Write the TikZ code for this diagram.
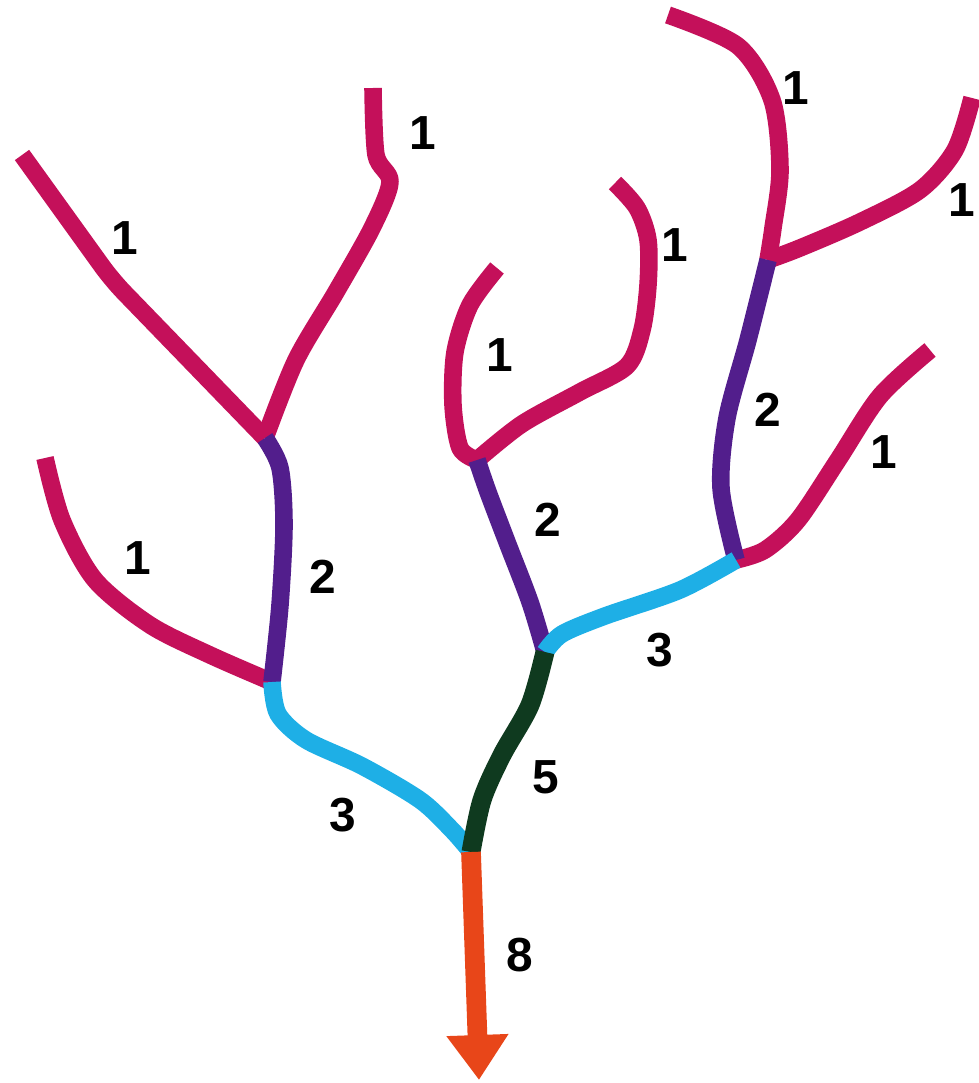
\documentclass[tikz,border=0pt]{standalone}
\usepackage{fontspec}
\usepackage{tikz}
\usetikzlibrary{arrows.meta}
\newfontfamily\labelfont{Liberation Sans}
\definecolor{orderone}{HTML}{C4105A}
\definecolor{ordertwo}{HTML}{521E8C}
\definecolor{orderthree}{HTML}{1EAFE6}
\definecolor{orderfive}{HTML}{0F3A1F}
\definecolor{ordereight}{HTML}{E84619}
\tikzset{
  stream/.style={line width=12.5pt,line join=round},
  streamone/.style={stream,draw=orderone},
  streamtwo/.style={stream,draw=ordertwo},
  streamthree/.style={stream,draw=orderthree},
  streamfive/.style={stream,draw=orderfive,line width=13.5pt},
  outlet/.style={stream,draw=ordereight,line width=14pt,-{Triangle[length=32pt,width=42pt]}},
  orderlabel/.style={font=\labelfont\bfseries\fontsize{34}{40}\selectfont,inner sep=0pt}
}

\begin{document}
\begin{tikzpicture}[x=0.025cm,y=-0.025cm]
  \useasboundingbox (0,0) rectangle (978,1083);
  % Zusammenfluesse
  \coordinate (ja) at (265,438);
  \coordinate (jb) at (272,682);
  \coordinate (jm) at (471,852);
  \coordinate (jc) at (545,652);
  \coordinate (jd) at (477,460);
  \coordinate (je) at (736,560);
  \coordinate (jf) at (768,260);
  \coordinate (mouth) at (479,1080);
  % linker Ast
  \draw[streamone,rounded corners=12pt] (22,155) -- (112,280) -- (ja);
  \draw[streamone] plot[smooth] coordinates {(373,88) (376,155) (390,182) (372,228) (336,292) (296,360) (ja)};
  \draw[streamone] plot[smooth] coordinates {(45,458) (62,520) (95,580) (150,625) (210,655) (jb)};
  \draw[streamtwo] plot[smooth] coordinates {(ja) (280,468) (284,525) (280,605) (jb)};
  \draw[streamthree] plot[smooth] coordinates {(jb) (278,714) (306,740) (362,766) (420,800) (452,830) (jm)};
  % mittlerer Ast
  \draw[streamone] plot[smooth] coordinates {(497,268) (470,305) (455,352) (453,405) (460,448) (jd)};
  \draw[streamone] plot[smooth] coordinates {(jd) (522,424) (580,392) (627,366) (642,330) (648,285) (648,240) (637,208) (615,183)};
  \draw[streamtwo] plot[smooth] coordinates {(jd) (488,492) (507,542) (530,602) (jc)};
  % rechter Ast
  \draw[streamone] plot[smooth] coordinates {(668,15) (738,46) (772,100) (780,170) (773,228) (jf)};
  \draw[streamone] plot[smooth] coordinates {(jf) (800,248) (860,222) (920,190) (955,150) (972,98)};
  \draw[streamone] plot[smooth] coordinates {(je) (765,550) (798,520) (838,460) (880,396) (930,350)};
  \draw[streamtwo] plot[smooth] coordinates {(jf) (748,340) (727,418) (721,488) (je)};
  \draw[streamthree] plot[smooth] coordinates {(jc) (562,634) (605,616) (680,590) (je)};
  % Hauptstrom
  \draw[streamfive] plot[smooth] coordinates {(jc) (530,705) (502,755) (482,800) (jm)};
  \draw[outlet] (jm) -- (mouth);
  % Ordnungszahlen
  \node[orderlabel] (la) at (125,238) {1};
  \node[orderlabel] (lb) at (423,133) {1};
  \node[orderlabel] (lc) at (138,558) {1};
  \node[orderlabel] (ld) at (323,577) {2};
  \node[orderlabel] (le) at (343,815) {3};
  \node[orderlabel] (lf) at (546,777) {5};
  \node[orderlabel] (lg) at (520,955) {8};
  \node[orderlabel] (lh) at (548,520) {2};
  \node[orderlabel] (li) at (500,355) {1};
  \node[orderlabel] (lj) at (675,245) {1};
  \node[orderlabel] (lk) at (660,650) {3};
  \node[orderlabel] (ll) at (768,410) {2};
  \node[orderlabel] (lm) at (884,452) {1};
  \node[orderlabel] (ln) at (796,88) {1};
  \node[orderlabel] (lo) at (962,200) {1};
\end{tikzpicture}
\end{document}
